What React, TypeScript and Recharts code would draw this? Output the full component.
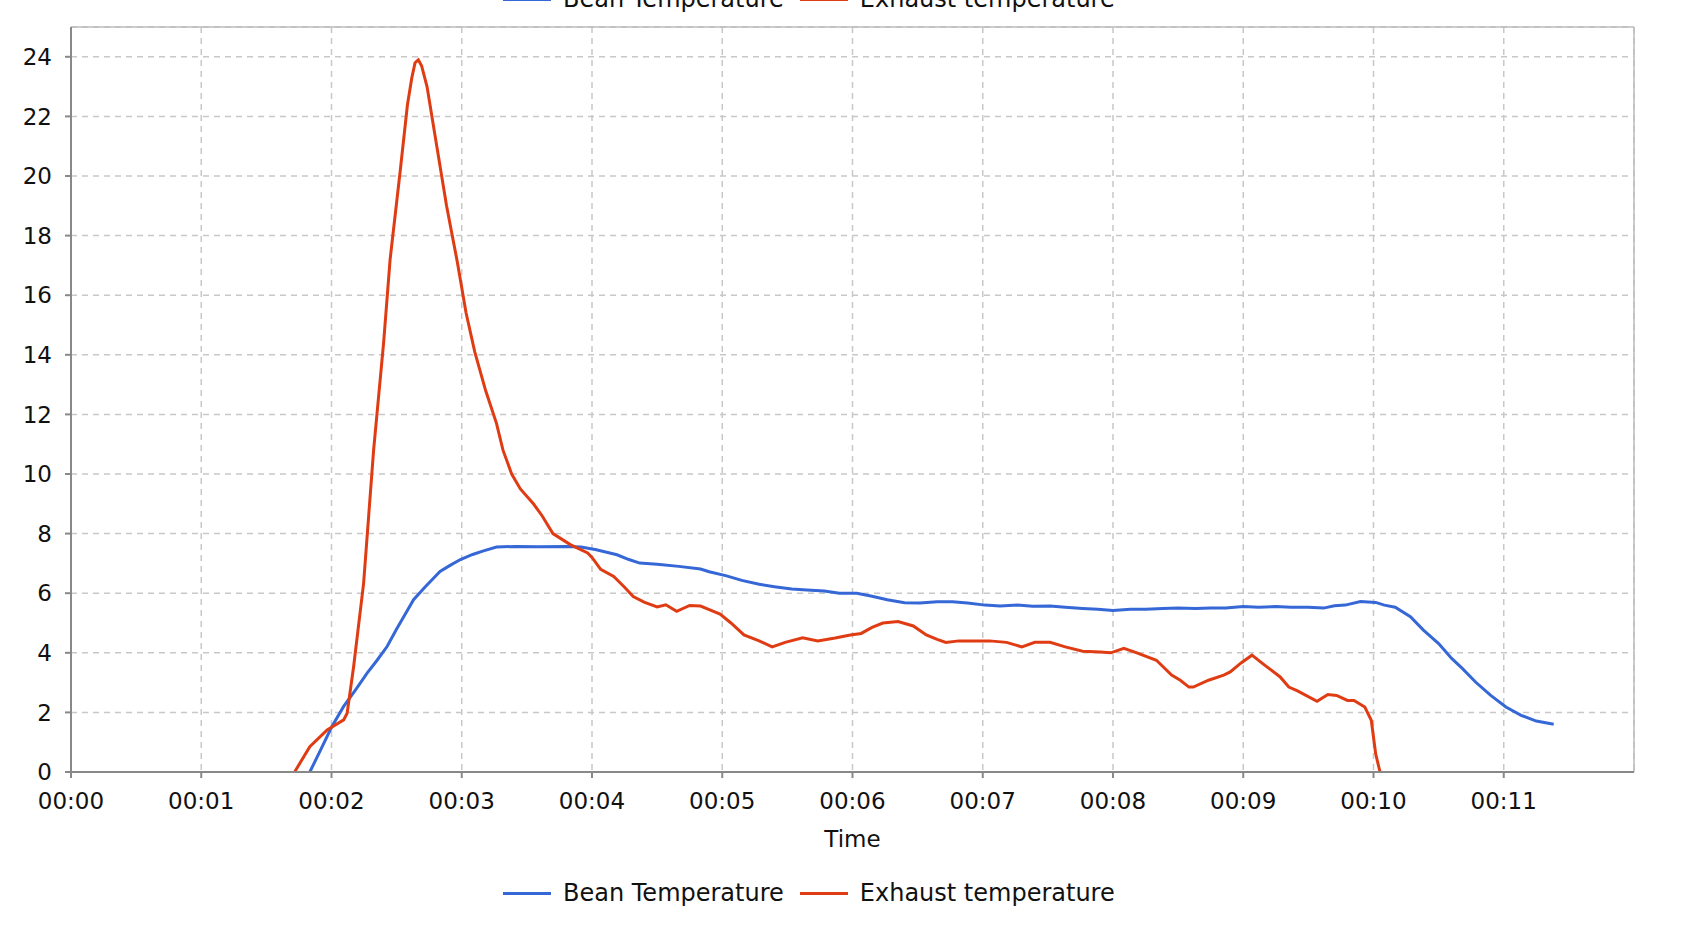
import { LineChart, Line, XAxis, YAxis, CartesianGrid, Legend, ReferenceLine } from 'recharts';

// seconds since start / temperature
const beanTime = [
  110, 115, 120, 125.6, 131, 136.4, 141, 145.6, 150, 154, 157.8, 163, 170, 175, 179.4, 185, 190, 196, 205, 215,
  228, 235, 242, 251.5, 257, 262, 270, 280, 290, 294, 302, 309, 317, 324, 332, 339, 347, 354, 362, 369,
  376, 384, 391, 399, 406, 413, 421, 428, 436, 443, 451, 458, 466, 473, 480, 488, 495, 503, 510, 518,
  525, 532, 540, 547, 555, 562, 570, 577, 582, 587, 594, 601, 605, 610, 617, 623, 630, 636, 641, 647,
  654, 661, 668, 675, 683,
];
const beanTemp = [
  0, 0.74, 1.5, 2.2, 2.75, 3.32, 3.75, 4.21, 4.8, 5.3, 5.78, 6.2, 6.73, 6.95, 7.13, 7.3, 7.42, 7.55, 7.57, 7.56,
  7.57, 7.55, 7.46, 7.29, 7.13, 7.01, 6.97, 6.9, 6.81, 6.72, 6.58, 6.43, 6.3, 6.22, 6.14, 6.11, 6.07, 6.0, 6.0, 5.9,
  5.78, 5.68, 5.67, 5.71, 5.71, 5.67, 5.6, 5.57, 5.6, 5.56, 5.57, 5.53, 5.49, 5.46, 5.42, 5.46, 5.46, 5.49, 5.5, 5.49,
  5.5, 5.5, 5.55, 5.53, 5.55, 5.53, 5.53, 5.5, 5.58, 5.6, 5.72, 5.69, 5.6, 5.53, 5.21, 4.76, 4.31, 3.81, 3.47, 3.02,
  2.57, 2.18, 1.9, 1.71, 1.6,
];

const exhaustTime = [
  103, 110, 118, 125.6, 127.2, 130.2, 134.8, 139.4, 144, 147, 151.7, 155, 157, 158.5, 160, 161.5, 164, 168.5, 173, 178,
  182, 186, 191, 196, 199, 203, 207, 213, 217, 222, 230, 238, 240, 244, 250, 255, 259, 264, 270, 274,
  279, 285, 290, 294, 299, 304, 310, 317, 323, 329, 337, 344, 352, 359, 364, 369, 374, 381, 388, 394,
  399, 403, 409, 416, 423, 431, 438, 444, 451, 458, 466, 474, 479, 485, 491, 500, 507, 511, 515, 517,
  524, 531, 534, 539, 544, 550, 557, 561, 565, 574, 579, 583, 588, 591, 596, 599, 601, 603,
];
const exhaustTemp = [
  0, 0.85, 1.41, 1.75, 1.97, 3.54, 6.34, 10.8, 14.4, 17.2, 20.2, 22.4, 23.3, 23.8, 23.9, 23.7, 23.0, 21.0, 19.0, 17.1,
  15.4, 14.1, 12.8, 11.7, 10.8, 10.0, 9.5, 9.0, 8.6, 8.0, 7.63, 7.35, 7.2, 6.8, 6.56, 6.2, 5.89, 5.7, 5.54, 5.61,
  5.39, 5.59, 5.57, 5.45, 5.3, 5.0, 4.6, 4.4, 4.2, 4.35, 4.5, 4.4, 4.5, 4.6, 4.65, 4.85, 5.0, 5.05, 4.9, 4.6,
  4.45, 4.35, 4.4, 4.4, 4.4, 4.35, 4.2, 4.35, 4.35, 4.2, 4.05, 4.03, 4.0, 4.15, 4.0, 3.75, 3.25, 3.08, 2.85, 2.85,
  3.08, 3.25, 3.36, 3.66, 3.92, 3.58, 3.19, 2.85, 2.72, 2.37, 2.6, 2.57, 2.4, 2.4, 2.18, 1.73, 0.61, 0,
];

const timeTicks = [0, 60, 120, 180, 240, 300, 360, 420, 480, 540, 600, 660];
const tempTicks = [0, 2, 4, 6, 8, 10, 12, 14, 16, 18, 20, 22, 24];

const seriesNames = ['Bean Temperature', 'Exhaust temperature'];
const seriesColors = ['#3568D6', '#E03C14'];

const font = '"DejaVu Sans", Verdana, sans-serif';

const beanData = beanTime.map((t, i) => ({ t, v: beanTemp[i] }));
const exhaustData = exhaustTime.map((t, i) => ({ t, v: exhaustTemp[i] }));

const fmtTime = (s: number) => '00:' + String(Math.round(s / 60)).padStart(2, '0');

function LegendRow() {
  return (
    <div style={{ display: 'flex', alignItems: 'center', height: 40, fontFamily: font, fontSize: 24, color: '#111', whiteSpace: 'nowrap' }}>
      {seriesNames.map((name, i) => (
        <div key={name} style={{ display: 'flex', alignItems: 'center', marginRight: 16 }}>
          <span style={{ display: 'inline-block', width: 48, height: 3, background: seriesColors[i], marginRight: 12 }} />
          <span>{name}</span>
        </div>
      ))}
    </div>
  );
}

export default function App() {
  return (
    <div style={{ position: 'absolute', left: 0, top: 0, width: 1684, height: 940, overflow: 'hidden', background: '#fff' }}>
      {/* legend copy that the original shows cut off at the top edge */}
      <div style={{ position: 'absolute', left: 503, top: -21 }}>
        <LegendRow />
      </div>
      <LineChart width={1684} height={940} margin={{ top: 27, right: 50, left: 0, bottom: 25 }} style={{ fontFamily: font }}>
        <CartesianGrid strokeDasharray="6 5" stroke="#c8c8c8" strokeWidth={1.5} />
        <XAxis
          dataKey="t"
          type="number"
          domain={[0, 720]}
          ticks={timeTicks}
          tickFormatter={fmtTime}
          allowDataOverflow
          height={103}
          stroke="#888"
          strokeWidth={2}
          tickSize={6}
          tickMargin={15}
          tick={{ fontSize: 23, fill: '#111', fontFamily: font }}
          label={{ value: 'Time', position: 'insideBottom', offset: 28, fontSize: 23, fill: '#111', fontFamily: font }}
        />
        <YAxis
          type="number"
          domain={[0, 25]}
          ticks={tempTicks}
          width={71}
          stroke="#888"
          strokeWidth={2}
          tickSize={6}
          tickMargin={13}
          tick={{ fontSize: 23, fill: '#111', fontFamily: font }}
        />
        <ReferenceLine y={25} stroke="#bbb" strokeWidth={1.5} />
        <ReferenceLine x={720} stroke="#bbb" strokeWidth={1.5} />
        <Line data={beanData} dataKey="v" name={seriesNames[0]} type="linear" stroke={seriesColors[0]} strokeWidth={3} dot={false} isAnimationActive={false} />
        <Line data={exhaustData} dataKey="v" name={seriesNames[1]} type="linear" stroke={seriesColors[1]} strokeWidth={3} dot={false} isAnimationActive={false} />
        <Legend verticalAlign="bottom" content={() => <LegendRow />} wrapperStyle={{ left: 503, bottom: 27, width: 'auto' }} />
      </LineChart>
    </div>
  );
}
